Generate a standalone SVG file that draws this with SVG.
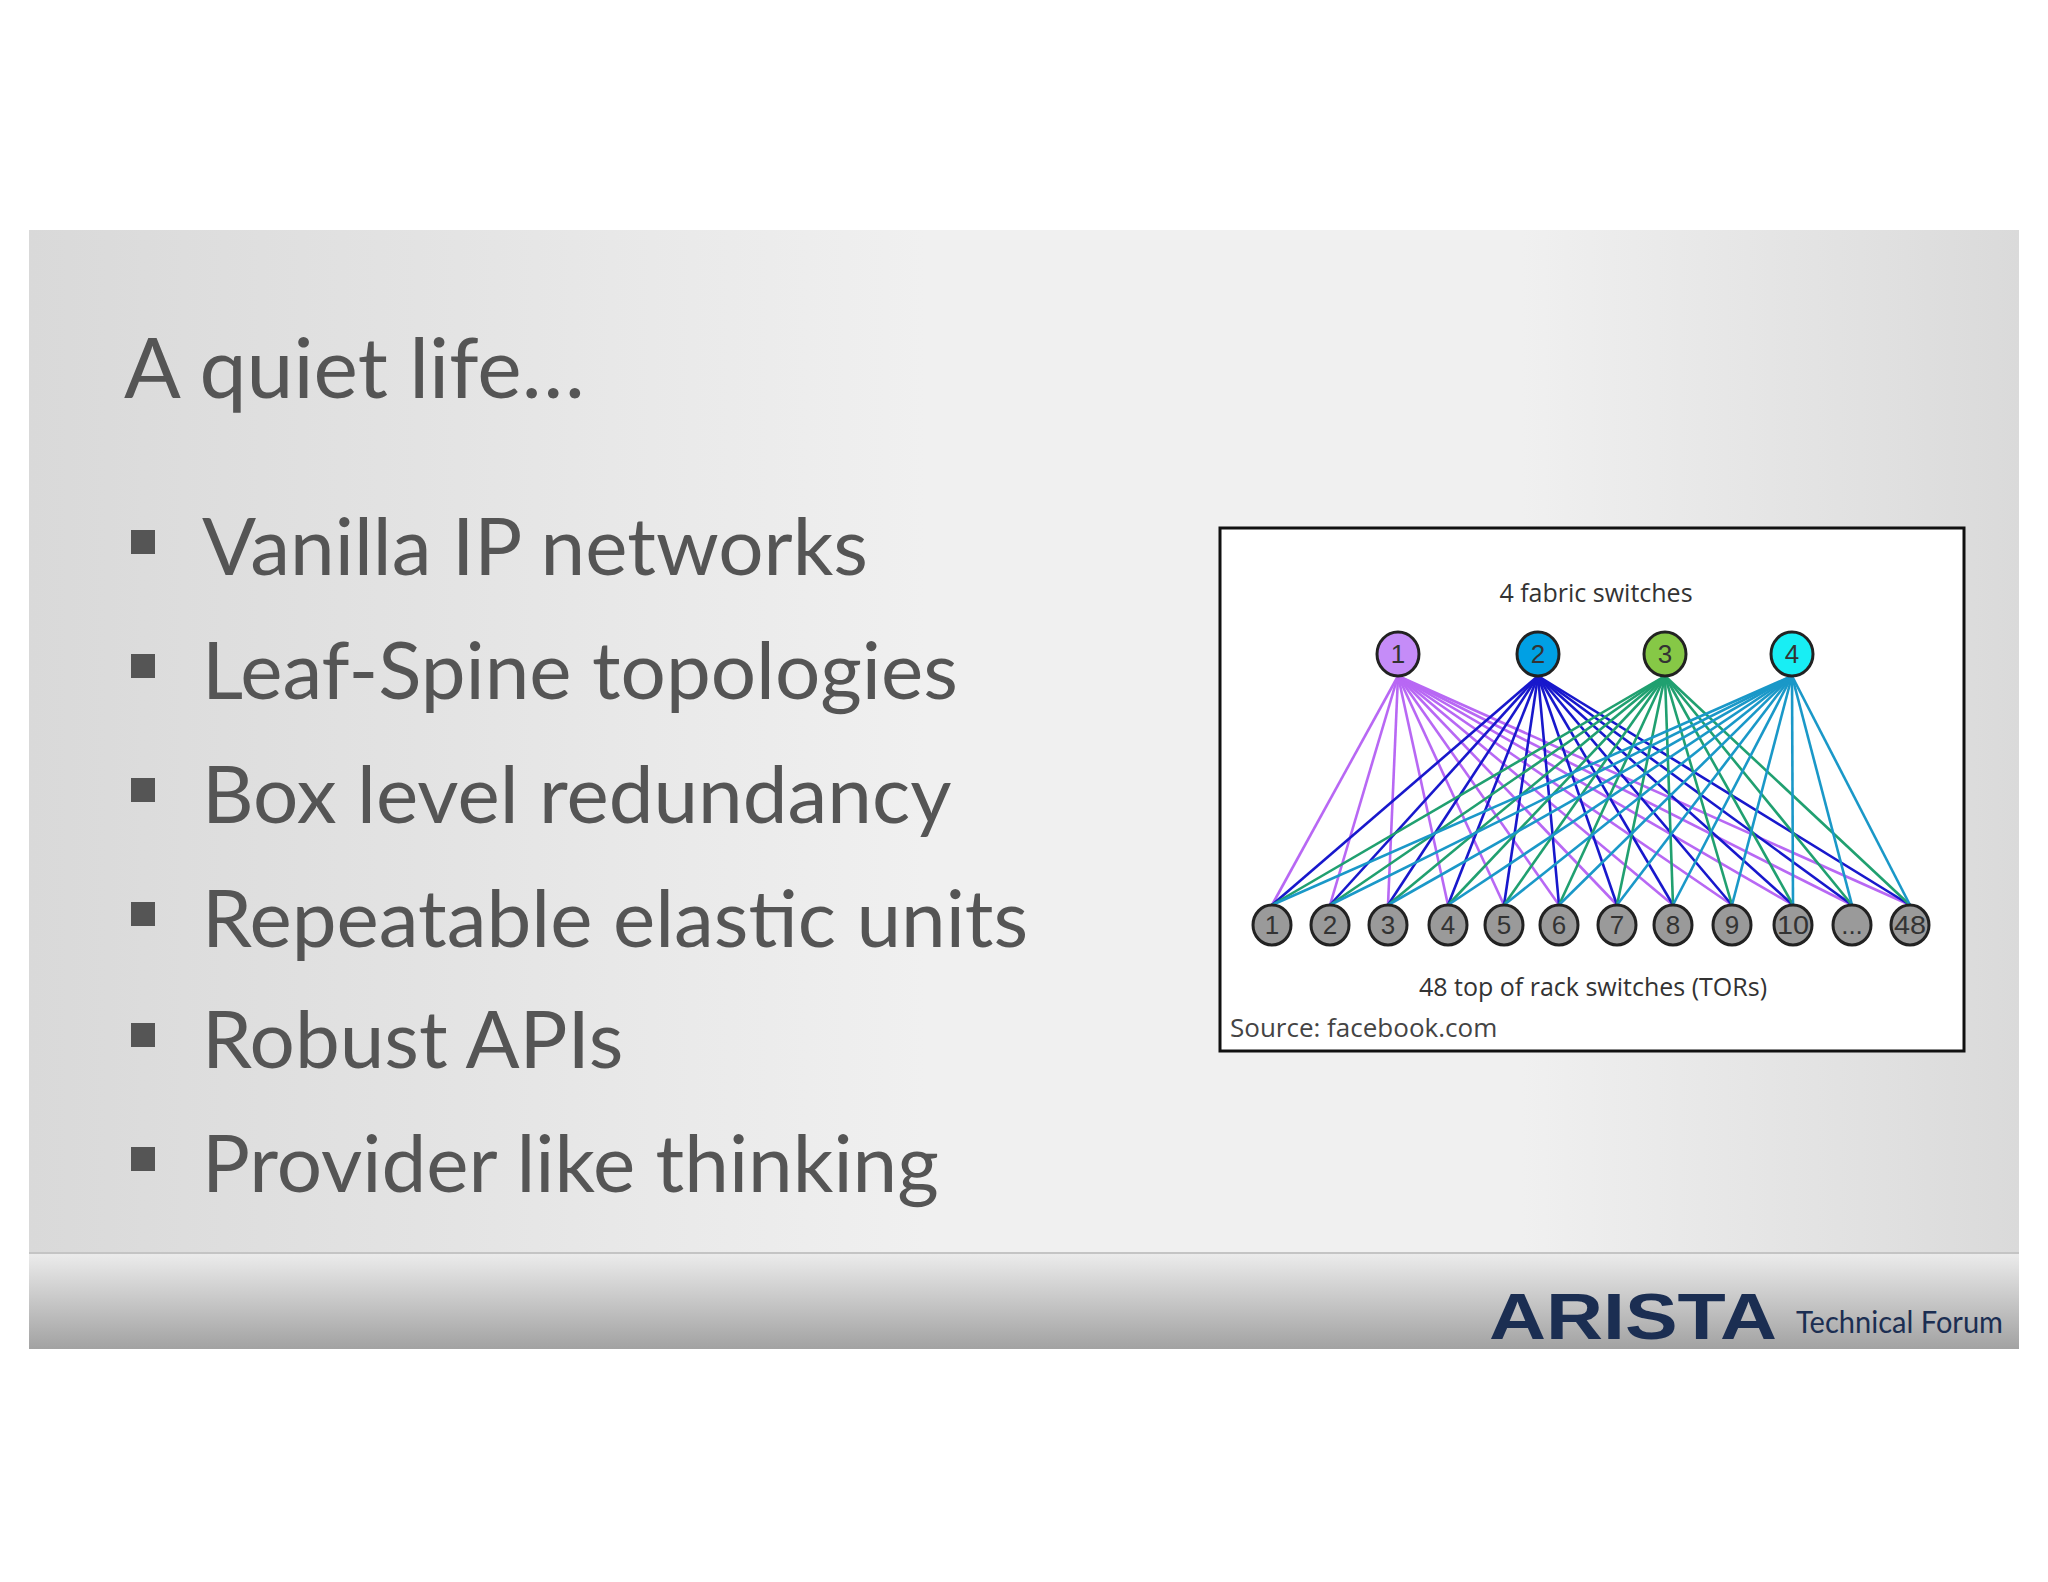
<svg xmlns="http://www.w3.org/2000/svg" width="2048" height="1582" viewBox="0 0 2048 1582">
<defs>
<linearGradient id="bg" x1="0" y1="0" x2="1" y2="0">
<stop offset="0" stop-color="#d9d9d9"/><stop offset="0.45" stop-color="#f0f0f0"/><stop offset="0.75" stop-color="#f0f0f0"/><stop offset="1" stop-color="#dadada"/>
</linearGradient>
<linearGradient id="ft" x1="0" y1="0" x2="0" y2="1">
<stop offset="0" stop-color="#ececec"/><stop offset="1" stop-color="#a2a2a2"/>
</linearGradient>
<style>
.t{font-family:"Lato","Open Sans",sans-serif;fill:#555;}
.b{font-size:80px;}
.d{font-family:"Open Sans","Liberation Sans",sans-serif;fill:#333;font-size:25px;text-anchor:middle;}
.n{font-family:"Liberation Sans",sans-serif;font-size:26px;fill:#333;text-anchor:middle;}
.tor{fill:#9a9a9a;stroke:#222;stroke-width:3;}
.fab{stroke:#222;stroke-width:3;}
.l1{stroke:#b868f4;stroke-width:2.6}
.l2{stroke:#1818cc;stroke-width:2.6}
.l3{stroke:#20a070;stroke-width:2.6}
.l4{stroke:#1a98c8;stroke-width:2.6}
</style>
</defs>
<rect width="2048" height="1582" fill="#fff"/>
<rect x="29" y="230" width="1990" height="1024" fill="url(#bg)"/>
<rect x="29" y="1253" width="1990" height="96" fill="url(#ft)"/>
<line x1="29" y1="1253" x2="2019" y2="1253" stroke="#c4c4c4" stroke-width="2"/>
<text class="t" x="124" y="398" font-size="84">A quiet life…</text>
<g fill="#555">
<rect x="131" y="530" width="24" height="24"/><rect x="131" y="654" width="24" height="24"/><rect x="131" y="778" width="24" height="24"/><rect x="131" y="902" width="24" height="24"/><rect x="131" y="1023" width="24" height="24"/><rect x="131" y="1147" width="24" height="24"/>
</g>
<text class="t b" x="202" y="575">Vanilla IP networks</text>
<text class="t b" x="202" y="699">Leaf-Spine topologies</text>
<text class="t b" x="202" y="823">Box level redundancy</text>
<text class="t b" x="202" y="947">Repeatable elastic units</text>
<text class="t b" x="202" y="1068">Robust APIs</text>
<text class="t b" x="202" y="1192">Provider like thinking</text>
<rect x="1220" y="528" width="744" height="523" fill="#fff" stroke="#111" stroke-width="3"/>
<text class="d" x="1596" y="602">4 fabric switches</text>
<text class="d" x="1593" y="996">48 top of rack switches (TORs)</text>
<text x="1230" y="1037" font-family="Open Sans,Liberation Sans,sans-serif" font-size="26" fill="#444">Source:  facebook.com</text>
<g id="connectors">
<g class="l1">
<line x1="1398" y1="676" x2="1272" y2="905"/><line x1="1398" y1="676" x2="1330" y2="905"/><line x1="1398" y1="676" x2="1388" y2="905"/><line x1="1398" y1="676" x2="1448" y2="905"/><line x1="1398" y1="676" x2="1504" y2="905"/><line x1="1398" y1="676" x2="1559" y2="905"/><line x1="1398" y1="676" x2="1617" y2="905"/><line x1="1398" y1="676" x2="1673" y2="905"/><line x1="1398" y1="676" x2="1732" y2="905"/><line x1="1398" y1="676" x2="1793" y2="905"/><line x1="1398" y1="676" x2="1852" y2="905"/><line x1="1398" y1="676" x2="1910" y2="905"/>
</g>
<g class="l2">
<line x1="1538" y1="676" x2="1272" y2="905"/><line x1="1538" y1="676" x2="1330" y2="905"/><line x1="1538" y1="676" x2="1388" y2="905"/><line x1="1538" y1="676" x2="1448" y2="905"/><line x1="1538" y1="676" x2="1504" y2="905"/><line x1="1538" y1="676" x2="1559" y2="905"/><line x1="1538" y1="676" x2="1617" y2="905"/><line x1="1538" y1="676" x2="1673" y2="905"/><line x1="1538" y1="676" x2="1732" y2="905"/><line x1="1538" y1="676" x2="1793" y2="905"/><line x1="1538" y1="676" x2="1852" y2="905"/><line x1="1538" y1="676" x2="1910" y2="905"/>
</g>
<g class="l3">
<line x1="1665" y1="676" x2="1272" y2="905"/><line x1="1665" y1="676" x2="1330" y2="905"/><line x1="1665" y1="676" x2="1388" y2="905"/><line x1="1665" y1="676" x2="1448" y2="905"/><line x1="1665" y1="676" x2="1504" y2="905"/><line x1="1665" y1="676" x2="1559" y2="905"/><line x1="1665" y1="676" x2="1617" y2="905"/><line x1="1665" y1="676" x2="1673" y2="905"/><line x1="1665" y1="676" x2="1732" y2="905"/><line x1="1665" y1="676" x2="1793" y2="905"/><line x1="1665" y1="676" x2="1852" y2="905"/><line x1="1665" y1="676" x2="1910" y2="905"/>
</g>
<g class="l4">
<line x1="1792" y1="676" x2="1272" y2="905"/><line x1="1792" y1="676" x2="1330" y2="905"/><line x1="1792" y1="676" x2="1388" y2="905"/><line x1="1792" y1="676" x2="1448" y2="905"/><line x1="1792" y1="676" x2="1504" y2="905"/><line x1="1792" y1="676" x2="1559" y2="905"/><line x1="1792" y1="676" x2="1617" y2="905"/><line x1="1792" y1="676" x2="1673" y2="905"/><line x1="1792" y1="676" x2="1732" y2="905"/><line x1="1792" y1="676" x2="1793" y2="905"/><line x1="1792" y1="676" x2="1852" y2="905"/><line x1="1792" y1="676" x2="1910" y2="905"/>
</g>
</g>
<g id="f1"><ellipse class="fab" cx="1398" cy="654" rx="21" ry="22" fill="#c58cf8"/><text class="n" x="1398" y="663">1</text></g>
<g id="f2"><ellipse class="fab" cx="1538" cy="654" rx="21" ry="22" fill="#00a0e4"/><text class="n" x="1538" y="663">2</text></g>
<g id="f3"><ellipse class="fab" cx="1665" cy="654" rx="21" ry="22" fill="#86c846"/><text class="n" x="1665" y="663">3</text></g>
<g id="f4"><ellipse class="fab" cx="1792" cy="654" rx="21" ry="22" fill="#18eef4"/><text class="n" x="1792" y="663">4</text></g>
<g id="t1"><ellipse class="tor" cx="1272" cy="925" rx="19" ry="20"/><text class="n" x="1272" y="934">1</text></g>
<g id="t2"><ellipse class="tor" cx="1330" cy="925" rx="19" ry="20"/><text class="n" x="1330" y="934">2</text></g>
<g id="t3"><ellipse class="tor" cx="1388" cy="925" rx="19" ry="20"/><text class="n" x="1388" y="934">3</text></g>
<g id="t4"><ellipse class="tor" cx="1448" cy="925" rx="19" ry="20"/><text class="n" x="1448" y="934">4</text></g>
<g id="t5"><ellipse class="tor" cx="1504" cy="925" rx="19" ry="20"/><text class="n" x="1504" y="934">5</text></g>
<g id="t6"><ellipse class="tor" cx="1559" cy="925" rx="19" ry="20"/><text class="n" x="1559" y="934">6</text></g>
<g id="t7"><ellipse class="tor" cx="1617" cy="925" rx="19" ry="20"/><text class="n" x="1617" y="934">7</text></g>
<g id="t8"><ellipse class="tor" cx="1673" cy="925" rx="19" ry="20"/><text class="n" x="1673" y="934">8</text></g>
<g id="t9"><ellipse class="tor" cx="1732" cy="925" rx="19" ry="20"/><text class="n" x="1732" y="934">9</text></g>
<g id="t10"><ellipse class="tor" cx="1793" cy="925" rx="19" ry="20"/><text class="n" x="1793" y="934" textLength="32" lengthAdjust="spacingAndGlyphs">10</text></g>
<g id="t11"><ellipse class="tor" cx="1852" cy="925" rx="19" ry="20"/><text class="n" x="1852" y="934">...</text></g>
<g id="t48"><ellipse class="tor" cx="1910" cy="925" rx="19" ry="20"/><text class="n" x="1910" y="934" textLength="32" lengthAdjust="spacingAndGlyphs">48</text></g>
<text x="1489" y="1339" font-family="Liberation Sans,sans-serif" font-weight="bold" font-size="64" fill="#1b2e52" textLength="288" lengthAdjust="spacingAndGlyphs">ARISTA</text>
<text x="1796" y="1333" font-family="Lato,Open Sans,sans-serif" font-size="31" fill="#1b2e52" textLength="207" lengthAdjust="spacingAndGlyphs">Technical Forum</text>
</svg>
